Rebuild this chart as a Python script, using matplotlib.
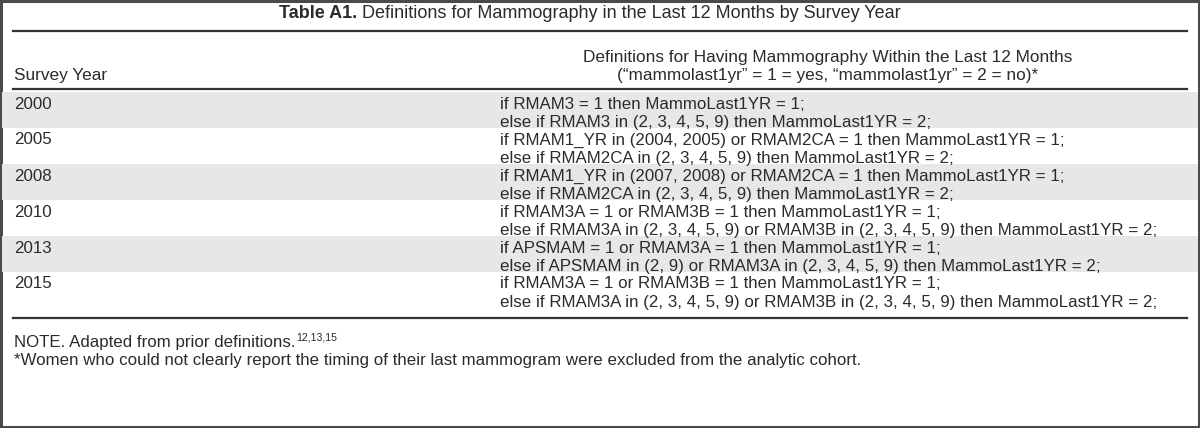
import matplotlib
matplotlib.use("Agg")
import matplotlib.pyplot as plt
from matplotlib.patches import Rectangle

plt.rcParams['font.family'] = ['Liberation Sans', 'DejaVu Sans']

# ---- table content ----
TITLE_BOLD = "Table A1."
TITLE_TEXT = "Definitions for Mammography in the Last 12 Months by Survey Year"
COL1_HEADER = "Survey Year"
COL2_HEADER = ["Definitions for Having Mammography Within the Last 12 Months",
               "(\u201cmammolast1yr\u201d = 1 = yes, \u201cmammolast1yr\u201d = 2 = no)*"]
YEARS = ["2000", "2005", "2008", "2010", "2013", "2015"]
RULE_IF = [
    "if RMAM3 = 1 then MammoLast1YR = 1;",
    "if RMAM1_YR in (2004, 2005) or RMAM2CA = 1 then MammoLast1YR = 1;",
    "if RMAM1_YR in (2007, 2008) or RMAM2CA = 1 then MammoLast1YR = 1;",
    "if RMAM3A = 1 or RMAM3B = 1 then MammoLast1YR = 1;",
    "if APSMAM = 1 or RMAM3A = 1 then MammoLast1YR = 1;",
    "if RMAM3A = 1 or RMAM3B = 1 then MammoLast1YR = 1;",
]
RULE_ELSE = [
    "else if RMAM3 in (2, 3, 4, 5, 9) then MammoLast1YR = 2;",
    "else if RMAM2CA in (2, 3, 4, 5, 9) then MammoLast1YR = 2;",
    "else if RMAM2CA in (2, 3, 4, 5, 9) then MammoLast1YR = 2;",
    "else if RMAM3A in (2, 3, 4, 5, 9) or RMAM3B in (2, 3, 4, 5, 9) then MammoLast1YR = 2;",
    "else if APSMAM in (2, 9) or RMAM3A in (2, 3, 4, 5, 9) then MammoLast1YR = 2;",
    "else if RMAM3A in (2, 3, 4, 5, 9) or RMAM3B in (2, 3, 4, 5, 9) then MammoLast1YR = 2;",
]
NOTE = "NOTE. Adapted from prior definitions."
NOTE_REFS = "12,13,15"
FOOTNOTE = ("*Women who could not clearly report the timing of their last "
            "mammogram were excluded from the analytic cohort.")

# ---- layout (pixel units) ----
W, H = 1200, 428
X0, X1 = 13, 1187
X_YEAR, X_DEF = 14, 500
ROW_TOP, ROW_H, LINE_GAP = 92, 36, 18
TXT = "#2b2b2b"
SHADE = "#e6e7e6"
FS = 12.15        # body text
FS_TITLE = 13.0
FS_HEAD = 12.4

fig = plt.figure(figsize=(W / 100, H / 100), dpi=100)
ax = fig.add_axes([0, 0, 1, 1])
ax.set_xlim(0, W)
ax.set_ylim(H, 0)
ax.axis("off")
renderer = fig.canvas.get_renderer()

# frame around the whole image
ax.add_patch(Rectangle((1, 1), W - 2, H - 2, fill=False, edgecolor="#4a4a4a", lw=2.2))

# title: bold label + regular text, centred together
t1 = ax.text(0, 13, TITLE_BOLD, fontsize=FS_TITLE, fontweight="bold", color=TXT, va="center")
t2 = ax.text(0, 13, " " + TITLE_TEXT, fontsize=FS_TITLE, color=TXT, va="center")
w1 = t1.get_window_extent(renderer).width
w2 = t2.get_window_extent(renderer).width
start = 590 - (w1 + w2) / 2
t1.set_x(start)
t2.set_x(start + w1)

# rules
ax.plot([X0, X1], [31, 31], color="#333333", lw=1.6)
ax.plot([X0, X1], [89, 89], color="#333333", lw=1.6)

# header
ax.text(X_YEAR, 75, COL1_HEADER, fontsize=FS_HEAD, color=TXT, va="center")
ax.text(828, 57, COL2_HEADER[0], fontsize=FS_HEAD, color=TXT, va="center", ha="center")
ax.text(828, 75, COL2_HEADER[1], fontsize=FS_HEAD, color=TXT, va="center", ha="center")

# body rows
for i, year in enumerate(YEARS):
    top = ROW_TOP + i * ROW_H
    if i % 2 == 0:
        ax.add_patch(Rectangle((2, top), W - 4, ROW_H, color=SHADE, lw=0))
    ax.text(X_YEAR, top + 12, year, fontsize=FS, color=TXT, va="center")
    ax.text(X_DEF, top + 12, RULE_IF[i], fontsize=FS, color=TXT, va="center")
    ax.text(X_DEF, top + 12 + LINE_GAP, RULE_ELSE[i], fontsize=FS, color=TXT, va="center")

bottom = ROW_TOP + len(YEARS) * ROW_H
ax.plot([X0, X1], [bottom + 10, bottom + 10], color="#333333", lw=1.6)

# notes
tn = ax.text(X_YEAR, bottom + 35, NOTE, fontsize=FS, color=TXT, va="center")
wn = tn.get_window_extent(renderer).width
ax.text(X_YEAR + wn + 1, bottom + 29, NOTE_REFS, fontsize=FS * 0.62, color=TXT, va="center")
ax.text(X_YEAR, bottom + 53, FOOTNOTE, fontsize=FS, color=TXT, va="center")

fig.savefig("out.png", dpi=100)
